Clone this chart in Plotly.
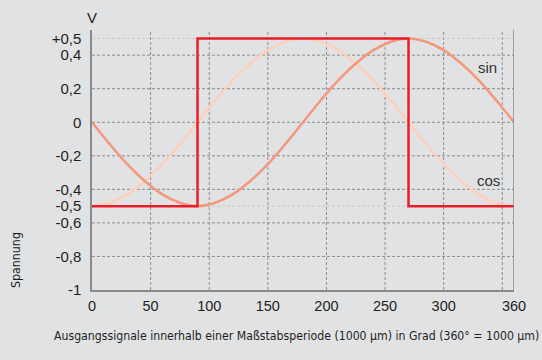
import plotly.graph_objects as go

# Phase angle in degrees (one scale period = 360°)
deg = [0, 15, 30, 45, 60, 75, 90, 105, 120, 135, 150, 165, 180,
       195, 210, 225, 240, 255, 270, 285, 300, 315, 330, 345, 360]

# Output voltages (V)
sin_v = [0, -0.13, -0.25, -0.35, -0.43, -0.48, -0.5, -0.48, -0.43, -0.35, -0.25, -0.13, 0,
         0.13, 0.25, 0.35, 0.43, 0.48, 0.5, 0.48, 0.43, 0.35, 0.25, 0.13, 0]
cos_v = [-0.5, -0.48, -0.43, -0.35, -0.25, -0.13, 0, 0.13, 0.25, 0.35, 0.43, 0.48, 0.5,
         0.48, 0.43, 0.35, 0.25, 0.13, 0, -0.13, -0.25, -0.35, -0.43, -0.48, -0.5]

# Reference pulse
ref_deg = [0, 90, 90, 270, 270, 360]
ref_v = [-0.5, -0.5, 0.5, 0.5, -0.5, -0.5]

# Axes
x_ticks = [0, 50, 100, 150, 200, 250, 300, 360]
x_grid = [50, 100, 150, 200, 250, 300, 350]
y_ticks = [0.5, 0.4, 0.2, 0, -0.2, -0.4, -0.5, -0.6, -0.8, -1]
y_labels = ["+0,5", "0,4", "0,2", "0", "-0,2", "-0,4", "-0,5", "-0,6", "-0,8", "-1"]
y_grid = [0.4, 0.2, 0, -0.2, -0.4, -0.6, -0.8]
y_grid_light = [0.5, -0.5]
X_RANGE = [0, 360]
Y_RANGE = [-1, 0.55]

W, H = 542, 360
M = dict(l=92, r=28, t=30, b=70)

BG = "#e1e2e4"
GRID = "#8c8c8c"
AXIS = "#8a8a8a"
TXT = "#1e1e1e"
NARROW = "Liberation Sans Narrow, DejaVu Sans Condensed, sans-serif"


def px_to_paper(px, py):
    """Convert figure pixel position to paper (plot-area) fractions."""
    pw = W - M["l"] - M["r"]
    ph = H - M["t"] - M["b"]
    return (px - M["l"]) / pw, (H - M["b"] - py) / ph


fig = go.Figure()
fig.add_trace(go.Scatter(x=deg, y=cos_v, mode="lines", line_shape="spline",
                         line=dict(color="#fdd0bb", width=2.5), hoverinfo="skip"))
fig.add_trace(go.Scatter(x=deg, y=sin_v, mode="lines", line_shape="spline",
                         line=dict(color="#f5977b", width=2.5), hoverinfo="skip"))
fig.add_trace(go.Scatter(x=ref_deg, y=ref_v, mode="lines",
                         line=dict(color="#ec1c2a", width=2.5), hoverinfo="skip"))

shapes = []
for gx in x_grid:
    shapes.append(dict(type="line", xref="x", yref="y", x0=gx, x1=gx, y0=Y_RANGE[0], y1=Y_RANGE[1],
                       line=dict(color=GRID, width=1, dash="3px,2px"), layer="below"))
for gy in y_grid:
    shapes.append(dict(type="line", xref="x", yref="y", x0=X_RANGE[0], x1=X_RANGE[1], y0=gy, y1=gy,
                       line=dict(color=GRID, width=1, dash="3px,2px"), layer="below"))
for gy in y_grid_light:
    shapes.append(dict(type="line", xref="x", yref="y", x0=X_RANGE[0], x1=X_RANGE[1], y0=gy, y1=gy,
                       line=dict(color="#c9c9cb", width=1, dash="3px,2px"), layer="below"))
# right border at the end of the period
shapes.append(dict(type="line", xref="x", yref="y", x0=X_RANGE[1], x1=X_RANGE[1],
                   y0=Y_RANGE[0], y1=Y_RANGE[1], line=dict(color=AXIS, width=1.5)))

sx, sy = px_to_paper(16, 260)
tx, ty = px_to_paper(296, 336)

annotations = [
    dict(text="V", x=0, y=1.0, xref="x", yref="paper", yanchor="bottom", yshift=2,
         showarrow=False, font=dict(size=15, color=TXT)),
    dict(text="REF", x=116, y=0.556, xref="x", yref="y", showarrow=False,
         font=dict(size=15, color="#333333")),
    dict(text="sin", x=337, y=0.326, xref="x", yref="y", showarrow=False,
         font=dict(size=15, color="#333333")),
    dict(text="cos", x=338, y=-0.348, xref="x", yref="y", showarrow=False,
         font=dict(size=15, color="#333333")),
    dict(text="Spannung", x=sx, y=sy, xref="paper", yref="paper", showarrow=False,
         xanchor="center", yanchor="middle",
         textangle=-90, font=dict(size=12.3, color=TXT, family=NARROW)),
    dict(text="Ausgangssignale innerhalb einer Maßstabsperiode (1000 µm) in Grad (360° = 1000 µm)",
         x=tx, y=ty, xref="paper", yref="paper", showarrow=False,
         xanchor="center", yanchor="middle",
         font=dict(size=12.2, color=TXT, family=NARROW)),
]

fig.update_layout(
    width=W, height=H,
    margin=M,
    paper_bgcolor=BG, plot_bgcolor=BG,
    showlegend=False,
    font=dict(family="Liberation Sans, Arial, sans-serif", size=15, color=TXT),
    shapes=shapes, annotations=annotations,
    xaxis=dict(range=X_RANGE, tickvals=x_ticks, ticktext=[str(v) for v in x_ticks],
               showgrid=False, zeroline=False, showline=True, linecolor=AXIS, linewidth=1.5,
               ticks="", ticklabelstandoff=2, tickfont=dict(size=14.5)),
    yaxis=dict(range=Y_RANGE, tickvals=y_ticks, ticktext=y_labels,
               showgrid=False, zeroline=False, showline=True, linecolor=AXIS, linewidth=1.5,
               ticks="", ticklabelstandoff=6, tickfont=dict(size=15)),
)

fig.write_html("out.html")
